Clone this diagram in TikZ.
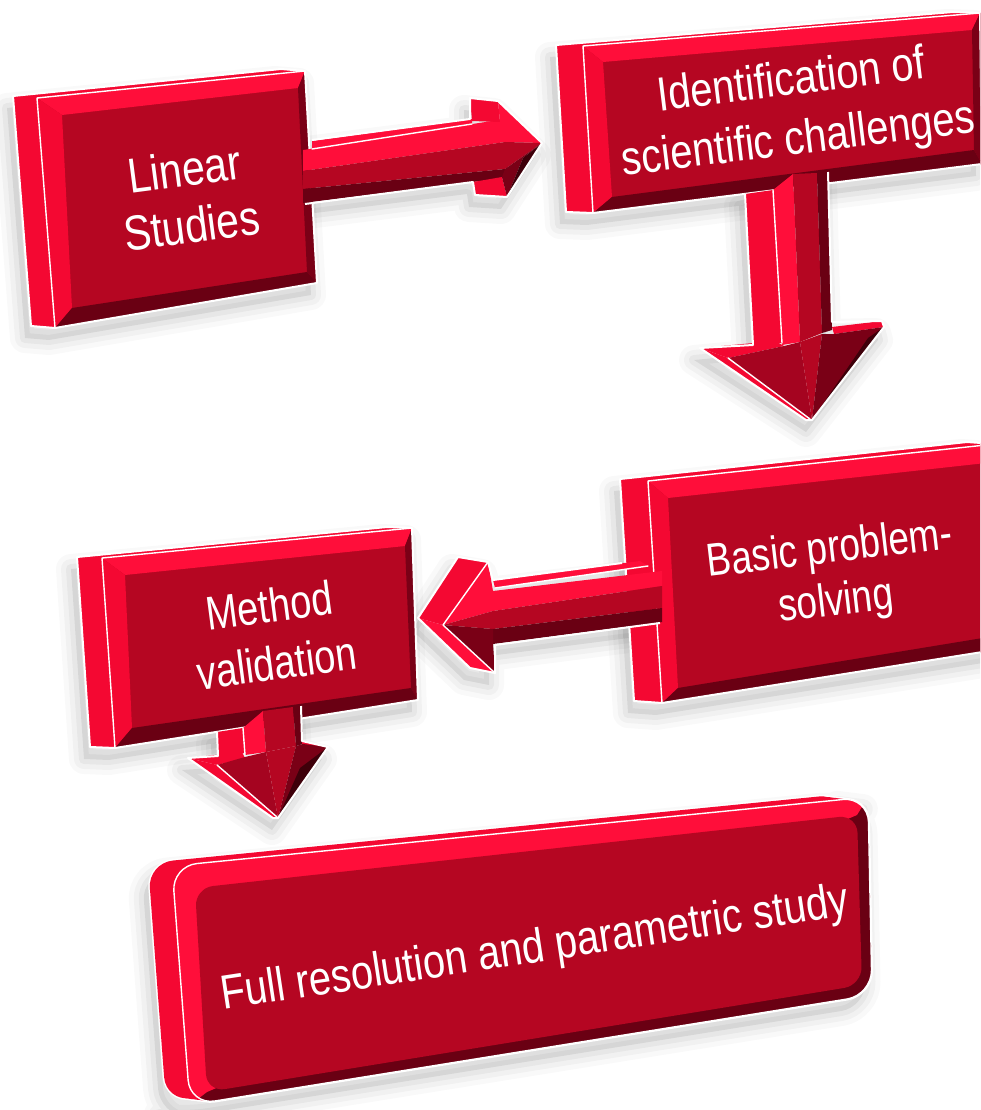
\documentclass[tikz,border=0pt]{standalone}
\usepackage{fontspec}
\newfontfamily\arialf{Liberation Sans}
\definecolor{rbright}{RGB}{255,14,58}
\definecolor{rside}{RGB}{244,8,50}
\definecolor{rface}{RGB}{181,6,34}
\definecolor{rmid}{RGB}{165,4,32}
\definecolor{rright}{RGB}{122,0,22}
\definecolor{rdark}{RGB}{106,0,19}
\definecolor{rdeep}{RGB}{62,0,10}
\tikzset{
  lbl/.style={text=white, align=center, inner sep=0pt},
  halo/.style={draw=white, line width=2pt, line join=round},
  hl/.style={draw=white, line width=1.4pt, line cap=round, line join=round},
}
\newcommand\shpoly[2][]{%
  \fill[black,opacity=.07,#1] #2;
  \draw[black,opacity=.025,line width=30pt,line join=round,#1] #2;
  \draw[black,opacity=.03,line width=20pt,line join=round,#1] #2;
  \draw[black,opacity=.04,line width=10pt,line join=round,#1] #2;
}
\newcommand\drawplain[1]{%
  \fill[rside] (#1Av)--(#1Bv)--(#1B)--(#1C)--(#1D)--(#1Dv)--cycle;
  \fill[rface] (#1A)--(#1B)--(#1C)--(#1D)--cycle;
  \fill[rbright] (#1A)--(#1B)--(#1b)--(#1a)--cycle;
  \fill[rside] (#1A)--(#1a)--(#1d)--(#1D)--cycle;
  \fill[rright] (#1B)--(#1C)--(#1c)--(#1b)--cycle;
  \fill[rdark] (#1D)--(#1d)--(#1c)--(#1C)--cycle;
  \draw[halo] (#1Av)--(#1Bv)--(#1B)--(#1C)--(#1D)--(#1Dv)--cycle;
  \draw[hl] (#1D)--(#1A)--(#1B);
}
\begin{document}
\begin{tikzpicture}[x=1pt,y=-1pt]
\useasboundingbox (0,0) rectangle (980,1110);
\fill[white] (0,0) rectangle (980,1110);
\clip (0,0) rectangle (980,1110);

% ---------- coordinates of the boxes ----------
\coordinate (b1A) at (37,98);  \coordinate (b1B) at (305,71);
\coordinate (b1C) at (317,283); \coordinate (b1D) at (55,328);
\coordinate (b1Av) at (13,96); \coordinate (b1Bv) at (281,69); \coordinate (b1Dv) at (31,326);
\coordinate (b1a) at (62,115); \coordinate (b1b) at (298,88);
\coordinate (b1c) at (307,272); \coordinate (b1d) at (72,308);

\coordinate (b2A) at (583,46);  \coordinate (b2B) at (980,13);
\coordinate (b2C) at (982,164); \coordinate (b2D) at (593,213);
\coordinate (b2Av) at (556,45); \coordinate (b2Bv) at (953,12); \coordinate (b2Dv) at (566,212);
\coordinate (b2a) at (603,62); \coordinate (b2b) at (972,30);
\coordinate (b2c) at (974,150); \coordinate (b2d) at (612,197);

\coordinate (b3A) at (648,481);  \coordinate (b3B) at (995,444);
\coordinate (b3C) at (995,650); \coordinate (b3D) at (662,703);
\coordinate (b3Av) at (620,479); \coordinate (b3Bv) at (967,442); \coordinate (b3Dv) at (634,701);
\coordinate (b3a) at (668,498); \coordinate (b3b) at (995,462);
\coordinate (b3c) at (995,636); \coordinate (b3d) at (678,688);

\coordinate (b4A) at (102,558);  \coordinate (b4B) at (412,528);
\coordinate (b4C) at (418,700); \coordinate (b4D) at (115,748);
\coordinate (b4Av) at (77,557); \coordinate (b4Bv) at (387,527); \coordinate (b4Dv) at (90,747);
\coordinate (b4a) at (125,575); \coordinate (b4b) at (405,546);
\coordinate (b4c) at (411,688); \coordinate (b4d) at (132,728);

% ---------- soft shadows ----------
\begin{scope}[transform canvas={xshift=-6pt,yshift=-12pt}]
  \shpoly{(13,96)--(281,69)--(305,71)--(317,283)--(55,328)--(31,326)--cycle}
  \shpoly{(305,140)--(470,119)--(470,98)--(500,101)--(542,143)--(507,197)--(475,195)--(473,182)--(305,203)--cycle}
  \shpoly{(556,45)--(953,12)--(980,13)--(982,164)--(593,213)--(566,212)--cycle}
  \shpoly{(745,194)--(828,172)--(832,322)--(882,321)--(884,328)--(812,420)--(700,348)--(753,343)--cycle}
  \shpoly{(620,479)--(967,442)--(995,444)--(995,650)--(662,703)--(634,701)--cycle}
  \shpoly{(493,580)--(648,562)--(658,623)--(495,644)--(495,673)--(470,668)--(418,618)--(458,557)--(488,562)--cycle}
  \shpoly{(77,557)--(387,527)--(412,528)--(418,700)--(115,748)--(90,747)--cycle}
  \shpoly{(217,732)--(301,706)--(303,741)--(328,747)--(278,818)--(188,758)--(218,756)--cycle}
  \shpoly[rounded corners=25pt]{(148,863)--(844,794)--(868,797)--(872,995)--(190,1105)--(166,1102)--cycle}
\end{scope}

% ---------- box 1 ----------
\drawplain{b1}
\node[lbl, rotate=7.5, yscale=1.2, font=\arialf\fontsize{41}{47}\selectfont] (t1) at (188,197) {Linear\\Studies};

% ---------- arrow 1 (right) ----------
\fill[rbright] (312,141)--(472,119)--(472,124)--(312,149)--cycle;
\fill[rbright] (303,150)--(505,119)--(505,142)--(303,171)--cycle;
\fill[rface] (303,171)--(505,142)--(505,169)--(303,189)--cycle;
\fill[rdark] (303,189)--(505,169)--(505,178)--(303,203)--cycle;
\fill[rside] (470,98)--(498,101)--(500,122)--(472,121)--cycle;
\fill[rside] (473,182)--(502,177)--(507,197)--(475,195)--cycle;
\fill[rbright] (498,101)--(542,143)--(505,142)--(500,122)--cycle;
\fill[rface] (505,142)--(542,143)--(505,169)--cycle;
\fill[rright] (505,169)--(542,143)--(523,158)--(507,197)--(502,177)--cycle;
\fill[rdeep] (542,143)--(507,197)--(523,158)--cycle;
\draw[halo] (312,140)--(470,119)--(470,98)--(498,101)--(542,143)--(507,197)--(475,195)--(473,182)--(305,204);
\draw[hl] (312,149)--(472,124);

% ---------- box 2 ----------
\drawplain{b2}
\node[lbl, rotate=7, yscale=1.2, font=\arialf\fontsize{40}{49.6}\selectfont] (t2) at (795,112) {Identification of\\scientific challenges};

% ---------- arrow 2 (down) ----------
\fill[rside] (745,194)--(773,190)--(782,343)--(753,345)--cycle;
\fill[rbright] (773,190)--(793,174)--(800,342)--(782,345)--cycle;
\fill[rface] (793,174)--(817,173)--(822,333)--(800,342)--cycle;
\fill[rdark] (817,173)--(828,172)--(832,330)--(822,333)--cycle;
\fill[rside] (700,348)--(775,341)--(784,346)--(728,358)--cycle;
\fill[rside] (832,327)--(882,321)--(884,327)--(834,334)--cycle;
\fill[rside] (700,348)--(728,358)--(812,420)--(806,420)--cycle;
\fill[rmid] (728,358)--(784,346)--(800,342)--(812,420)--cycle;
\fill[rface] (800,342)--(822,334)--(812,420)--cycle;
\fill[rright] (822,334)--(834,334)--(884,327)--(812,420)--cycle;
\fill[rdeep] (884,327)--(812,420)--(868,338)--cycle;
\draw[halo] (745,194)--(753,345)--(700,348)--(806,420)--(812,420)--(884,327)--(882,321)--(832,322)--(828,172);
\draw[hl] (773,190)--(782,343);
\draw[hl] (728,358)--(810,419);

% ---------- box 3 ----------
\drawplain{b3}
\node[lbl, rotate=6.7, yscale=1.25, font=\arialf\fontsize{37}{42.5}\selectfont] (t3) at (833,577) {Basic problem-\\solving};

% ---------- arrow 3 (left) ----------
\fill[rbright] (493,580)--(640,561)--(648,566)--(495,588)--cycle;
\fill[rbright] (493,591)--(662,571)--(662,586)--(493,611)--cycle;
\fill[rface] (493,611)--(662,586)--(662,608)--(493,629)--cycle;
\fill[rdark] (493,629)--(662,608)--(662,622)--(493,644)--cycle;
\fill[rside] (458,557)--(488,562)--(443,625)--(418,618)--cycle;
\fill[rbright] (418,618)--(443,625)--(495,673)--(470,668)--cycle;
\fill[rbright] (443,625)--(488,562)--(493,591)--(493,611)--cycle;
\fill[rface] (443,625)--(493,611)--(493,629)--cycle;
\fill[rright] (443,625)--(493,629)--(493,644)--(495,673)--cycle;
\draw[halo] (622,563)--(493,580)--(488,562)--(458,557)--(418,618)--(470,668)--(495,673)--(495,645)--(660,623);
\draw[hl] (495,588)--(648,566);
\draw[hl] (488,562)--(443,625)--(495,673);

% ---------- box 4 ----------
\drawplain{b4}
\node[lbl, rotate=7.5, yscale=1.25, font=\arialf\fontsize{38}{46.4}\selectfont] (t4) at (273,634) {Method\\validation};

% ---------- arrow 4 (down) ----------
\fill[rside] (217,732)--(243,728)--(245,753)--(218,756)--cycle;
\fill[rbright] (243,728)--(263,711)--(266,752)--(245,755)--cycle;
\fill[rface] (263,711)--(293,707)--(296,746)--(266,752)--cycle;
\fill[rdark] (293,707)--(301,706)--(303,744)--(296,746)--cycle;
\fill[rside] (188,758)--(242,752)--(245,758)--(217,765)--cycle;
\fill[rside] (302,741)--(328,747)--(326,751)--(302,749)--cycle;
\fill[rside] (188,758)--(217,765)--(278,818)--(273,818)--cycle;
\fill[rmid] (217,765)--(245,757)--(266,752)--(278,818)--cycle;
\fill[rface] (266,752)--(296,746)--(278,818)--cycle;
\fill[rright] (296,746)--(303,744)--(328,747)--(278,818)--cycle;
\fill[rdeep] (328,747)--(278,818)--(300,768)--cycle;
\draw[halo] (217,732)--(218,756)--(188,758)--(273,818)--(278,818)--(328,747)--(302,741)--(301,706);
\draw[hl] (243,728)--(245,755);
\draw[hl] (217,765)--(277,817);

% ---------- box 5 (rounded) ----------
\foreach \s in {0,0.25,0.5,0.75,1}{
  \draw[white,line width=3pt,rounded corners=25pt,shift={(-24*\s,-3*\s)}]
    (172,866)--(868,797)--(872,995)--(190,1105)--cycle;}
\foreach \s in {0,0.25,0.5,0.75,1}{
  \fill[rside,rounded corners=25pt,shift={(-24*\s,-3*\s)}]
    (172,866)--(868,797)--(872,995)--(190,1105)--cycle;}
\begin{scope}
  \clip[rounded corners=25pt] (172,866)--(868,797)--(872,995)--(190,1105)--cycle;
  \fill[rdark] (100,700) rectangle (1000,1200);
  \fill[rbright] (950,700)--(868,797)--(857,815)--(207,1092)--(190,1105)--(100,1200)--(100,700)--cycle;
\end{scope}
\fill[rface,rounded corners=18pt] (195,888)--(857,815)--(862,985)--(207,1092)--cycle;
\draw[hl,rounded corners=25pt] (172,866)--(868,797)--(872,995)--(190,1105)--cycle;
\node[lbl, rotate=8.6, yscale=1.2, font=\arialf\fontsize{40}{46}\selectfont] (t5) at (535,950) {Full resolution and parametric study};

\end{tikzpicture}
\end{document}
